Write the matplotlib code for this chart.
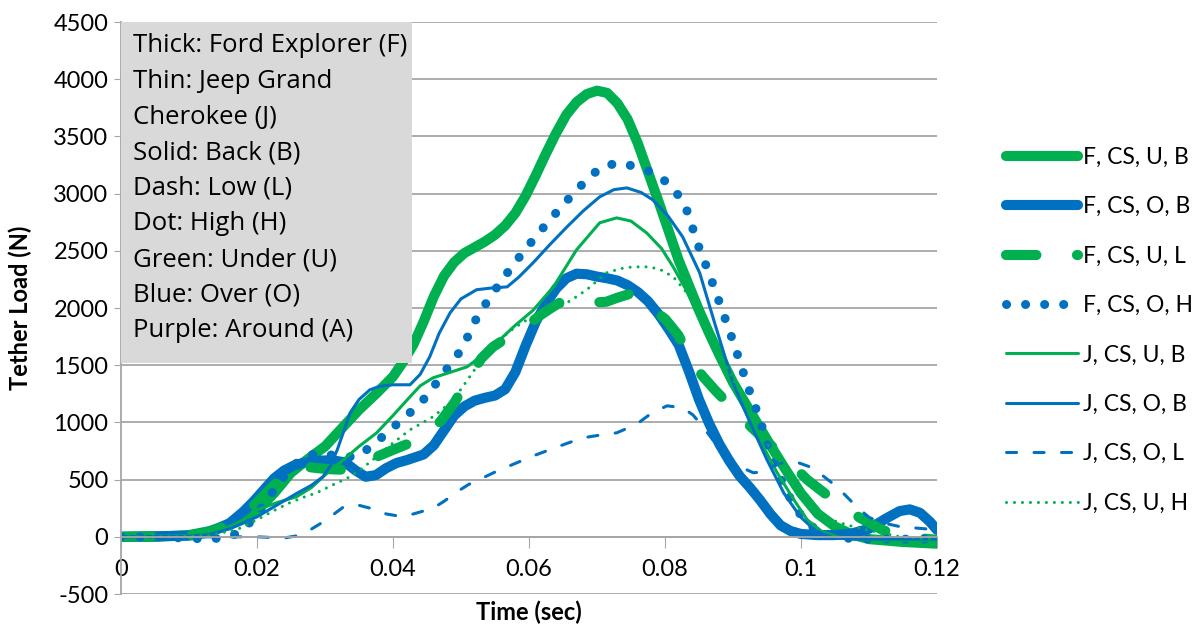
import matplotlib.pyplot as plt
import numpy as np

plt.rcParams['font.family'] = ['Lato', 'DejaVu Sans']
plt.rcParams['axes.unicode_minus'] = False

green = '#00B050'
blue = '#0070C0'

# F, CS, U, B  (thick green solid)
fub_t = [0, 0.005, 0.01, 0.013, 0.016, 0.018, 0.02, 0.0225, 0.025, 0.0275, 0.03, 0.0325,
         0.035, 0.0375, 0.04, 0.0415, 0.043, 0.0445, 0.046, 0.0475, 0.049, 0.0505, 0.052,
         0.0535, 0.055, 0.0565, 0.058, 0.0595, 0.061, 0.0625, 0.064, 0.0655, 0.067, 0.0685,
         0.07, 0.0715, 0.073, 0.0745, 0.076, 0.0775, 0.079, 0.0805, 0.082, 0.0835, 0.085,
         0.0865, 0.088, 0.09, 0.0925, 0.095, 0.0975, 0.1, 0.1025, 0.105, 0.1075, 0.11,
         0.115, 0.12]
fub_v = [0, 0, 15, 50, 110, 170, 230, 380, 560, 680, 790, 950,
         1110, 1250, 1400, 1530, 1680, 1880, 2100, 2280, 2400, 2480, 2530,
         2580, 2640, 2720, 2830, 2980, 3160, 3350, 3530, 3690, 3800, 3870,
         3900, 3880, 3790, 3650, 3440, 3190, 2940, 2680, 2420, 2200, 1980,
         1780, 1590, 1350, 1100, 850, 610, 380, 200, 90, 20, -20,
         -45, -60]

# F, CS, O, B  (thick blue solid)
fob_t = [0, 0.01, 0.013, 0.016, 0.018, 0.0195, 0.021, 0.0225, 0.024, 0.0255, 0.027,
         0.029, 0.031, 0.033, 0.0345, 0.036, 0.0375, 0.039, 0.0405, 0.042, 0.0445, 0.046,
         0.0475, 0.049, 0.0505, 0.052, 0.0535, 0.055, 0.0565, 0.058, 0.0595, 0.061, 0.0625,
         0.064, 0.0655, 0.067, 0.0685, 0.07, 0.0715, 0.073, 0.0745, 0.076, 0.0775, 0.079,
         0.0805, 0.082, 0.0835, 0.085, 0.0865, 0.088, 0.0895, 0.091, 0.0925, 0.094, 0.0955,
         0.097, 0.0985, 0.1, 0.1025, 0.105, 0.1075, 0.11, 0.1125, 0.1145, 0.116, 0.1175,
         0.119, 0.12]
fob_v = [0, 10, 40, 120, 220, 310, 410, 510, 580, 625, 650,
         665, 670, 650, 580, 525, 540, 600, 645, 670, 720, 800,
         930, 1060, 1140, 1190, 1215, 1235, 1290, 1440, 1670, 1880, 2040,
         2170, 2260, 2300, 2295, 2275, 2260, 2240, 2200, 2140, 2060, 1950,
         1820, 1680, 1450, 1200, 990, 810, 660, 530, 430, 320, 200,
         100, 50, 25, 15, 15, 30, 70, 160, 225, 240, 210,
         130, 60]

# F, CS, U, L  (thick green dashed)
ful_t = [0, 0.01, 0.013, 0.016, 0.018, 0.02, 0.022, 0.024, 0.0258, 0.0275, 0.029,
         0.031, 0.0335, 0.0355, 0.0376, 0.04, 0.0425, 0.045, 0.047, 0.049, 0.0513, 0.053,
         0.0547, 0.0565, 0.0582, 0.06, 0.0615, 0.063, 0.0646, 0.066, 0.068, 0.07, 0.0714,
         0.073, 0.0749, 0.0765, 0.078, 0.0801, 0.082, 0.084, 0.0856, 0.0874, 0.09, 0.0925,
         0.095, 0.098, 0.1009, 0.1047, 0.1087, 0.112, 0.115, 0.12]
ful_v = [0, 10, 40, 110, 190, 300, 420, 540, 610, 610, 600,
         590, 585, 630, 700, 760, 820, 900, 1010, 1170, 1400, 1560,
         1660, 1730, 1783, 1860, 1930, 1990, 2050, 2070, 2060, 2050, 2055,
         2090, 2125, 2080, 2000, 1900, 1760, 1520, 1400, 1280, 1120, 970,
         830, 673, 500, 325, 165, 60, 0, -26]

# F, CS, O, H  (thick blue dotted)
foh_t = [0, 0.005, 0.009, 0.013, 0.016, 0.018, 0.02, 0.0215, 0.023, 0.0248, 0.0268,
         0.0293, 0.0322, 0.0347, 0.0371, 0.0391, 0.0413, 0.0435, 0.0454, 0.047, 0.0489,
         0.0503, 0.052, 0.0543, 0.0577, 0.0612, 0.065, 0.0687, 0.0709, 0.0737, 0.076,
         0.0785, 0.0807, 0.0825, 0.0837, 0.0844, 0.0865, 0.0884, 0.0903, 0.092, 0.093,
         0.094, 0.0947, 0.0966, 0.0979, 0.0994, 0.1009, 0.103, 0.106, 0.11, 0.12]
foh_v = [0, 0, -10, -20, 0, 60, 200, 323, 455, 585, 700,
         734, 700, 700, 804, 909, 1023, 1137, 1259, 1400, 1540,
         1660, 1880, 2100, 2380, 2640, 2902, 3136, 3243, 3270, 3226,
         3180, 3077, 2946, 2788, 2622, 2300, 1984, 1660, 1346, 1180,
         1023, 865, 560, 393, 236, 122, 30, -10, -20, -20]

# J, CS, U, B  (thin green solid)
jub_t = [0, 0.01, 0.013, 0.016, 0.018, 0.02, 0.023, 0.0258, 0.028, 0.03, 0.0327,
         0.035, 0.0376, 0.04, 0.0425, 0.044, 0.0459, 0.048, 0.0509, 0.053, 0.0557, 0.058,
         0.0606, 0.0636, 0.067, 0.0704, 0.0729, 0.075, 0.0773, 0.0795, 0.0812, 0.083,
         0.0847, 0.087, 0.089, 0.0915, 0.094, 0.0965, 0.099, 0.1009, 0.103, 0.1053, 0.108,
         0.112, 0.12]
jub_v = [0, 10, 30, 90, 150, 236, 300, 350, 430, 540, 673,
         790, 909, 1060, 1224, 1320, 1390, 1430, 1486, 1580, 1722, 1850,
         1980, 2185, 2509, 2745, 2788, 2760, 2657, 2520, 2360, 2170,
         1958, 1680, 1420, 1136, 840, 560, 320, 150, 50, 0, -20,
         -30, -30]

# J, CS, O, B  (thin blue solid)
job_t = [0, 0.01, 0.013, 0.016, 0.018, 0.02, 0.023, 0.026, 0.028, 0.0297, 0.0308,
         0.0318, 0.0328, 0.0337, 0.035, 0.0366, 0.038, 0.04, 0.0425, 0.044, 0.0454, 0.0468,
         0.0484, 0.05, 0.0523, 0.0545, 0.0568, 0.0585, 0.0606, 0.063, 0.0656, 0.068, 0.0704,
         0.0725, 0.0744, 0.0765, 0.0782, 0.0805, 0.0826, 0.0851, 0.0875, 0.09, 0.0925,
         0.095, 0.0975, 0.0999, 0.102, 0.1047, 0.108, 0.12]
job_v = [0, 5, 20, 70, 120, 175, 280, 385, 450, 525, 620,
         760, 930, 1084, 1200, 1285, 1315, 1329, 1329, 1420, 1573, 1780,
         1958, 2080, 2160, 2175, 2185, 2270, 2395, 2550, 2710, 2850, 2972,
         3035, 3050, 3010, 2946, 2800, 2622, 2308, 1830, 1346, 1000,
         673, 380, 175, 60, -9, -20, -20]

# J, CS, O, L  (thin blue dashed)
jol_t = [0, 0.01, 0.02, 0.022, 0.024, 0.026, 0.0278, 0.03, 0.0327, 0.0347, 0.036,
         0.0376, 0.039, 0.041, 0.043, 0.0459, 0.0475, 0.0494, 0.0512, 0.0532, 0.0555,
         0.0582, 0.0605, 0.063, 0.0655, 0.0679, 0.0705, 0.0729, 0.0745, 0.0763, 0.078,
         0.0803, 0.0826, 0.0841, 0.0856, 0.087, 0.089, 0.0915, 0.093, 0.0944, 0.096, 0.0974,
         0.0995, 0.1013, 0.1033, 0.1053, 0.1082, 0.11, 0.112, 0.1145, 0.1165, 0.12]
jol_v = [0, 0, 0, -5, -10, 10, 60, 140, 260, 280, 260,
         236, 200, 180, 200, 250, 310, 393, 460, 515, 580,
         647, 705, 760, 815, 865, 890, 909, 950, 1005, 1080,
         1145, 1128, 1066, 962, 850, 720, 600, 560, 568, 620, 647,
         650, 612, 530, 437, 262, 170, 122, 90, 79, 61]

# J, CS, U, H  (thin green dotted)
juh_t = [0, 0.008, 0.013, 0.017, 0.02, 0.0225, 0.0248, 0.0268, 0.0288, 0.031, 0.0337,
         0.0355, 0.0376, 0.04, 0.0425, 0.0459, 0.0484, 0.05, 0.0523, 0.054, 0.0557, 0.0577,
         0.0597, 0.062, 0.0646, 0.0665, 0.0685, 0.0714, 0.0735, 0.0753, 0.0778, 0.0795,
         0.0812, 0.0837, 0.0855, 0.0876, 0.09, 0.092, 0.0945, 0.097, 0.0995, 0.102, 0.1043,
         0.107, 0.1097, 0.1146, 0.12]
juh_v = [0, 0, 15, 61, 149, 230, 297, 345, 385, 450, 525,
         600, 700, 820, 935, 1050, 1170, 1290, 1486, 1610, 1722, 1820,
         1897, 1960, 2010, 2080, 2160, 2308, 2345, 2360, 2360, 2330,
         2273, 2100, 1900, 1660, 1380, 1150, 870, 620, 400, 250, 150,
         100, 61, 0, -20]

box_lines = ["Thick: Ford Explorer (F)", "Thin: Jeep Grand", "Cherokee (J)",
             "Solid: Back (B)", "Dash: Low (L)", "Dot: High (H)",
             "Green: Under (U)", "Blue: Over (O)", "Purple: Around (A)"]

fig = plt.figure(figsize=(11.93, 6.31), dpi=100)
ax = fig.add_axes([0.1014, 0.0586, 0.684, 0.9065])

series = [
    (fub_t, fub_v, "F, CS, U, B", green, 7.3, None),
    (fob_t, fob_v, "F, CS, O, B", blue, 7.3, None),
    (ful_t, ful_v, "F, CS, U, L", green, 7.3, (3, 4)),
    (foh_t, foh_v, "F, CS, O, H", blue, 6.5, (0.01, 2.1)),
    (jub_t, jub_v, "J, CS, U, B", green, 2.2, None),
    (job_t, job_v, "J, CS, O, B", blue, 2.2, None),
    (jol_t, jol_v, "J, CS, O, L", blue, 2.2, (3.3, 5.7)),
    (juh_t, juh_v, "J, CS, U, H", green, 2.2, (0.01, 2.6)),
]

for t, v, lab, col, lw, dash in series:
    line, = ax.plot(t, v, color=col, lw=lw, label=lab, solid_capstyle='round',
                    solid_joinstyle='round', dash_capstyle='round', dash_joinstyle='round')
    if dash is not None:
        line.set_dashes(dash)

ax.set_xlim(0, 0.12)
ax.set_ylim(-500, 4500)
ax.set_yticks(np.arange(-500, 4501, 500))
ax.set_xticks([0, 0.02, 0.04, 0.06, 0.08, 0.1, 0.12])
ax.set_xticklabels(['0', '0.02', '0.04', '0.06', '0.08', '0.1', '0.12'])
ax.grid(axis='y', color='#A6A6A6', lw=1.3)
ax.set_axisbelow(True)

for s in ['top', 'right']:
    ax.spines[s].set_visible(False)
ax.spines['bottom'].set_position(('data', 0))
ax.spines['bottom'].set_color('#A6A6A6')
ax.spines['bottom'].set_linewidth(1.3)
ax.spines['left'].set_color('#A6A6A6')
ax.spines['left'].set_linewidth(1.3)
ax.tick_params(axis='x', direction='out', length=8, color='#A6A6A6', labelsize=17, pad=8)
ax.tick_params(axis='y', direction='out', length=5, color='#A6A6A6', labelsize=17, pad=4)

ax.set_xlabel("Time (sec)", fontsize=17, fontweight='bold')
ax.set_ylabel("Tether Load (N)", fontsize=17, fontweight='bold', labelpad=15)
ax.xaxis.set_label_coords(0.5, -0.012)

# gray note box
ax.add_patch(plt.Rectangle((0, 0.404), 0.357, 0.596, transform=ax.transAxes,
                           facecolor='#D9D9D9', edgecolor='none', zorder=5))
for i, s in enumerate(box_lines):
    fig.text(133 / 1193, 1 - (46 + i * 35.6) / 631, s, fontsize=18.5,
             family=['Open Sans', 'DejaVu Sans'], va='center', ha='left', zorder=6)

leg = fig.legend(loc='upper left', bbox_to_anchor=(0.826, 0.80), frameon=False,
                 fontsize=16.5, handlelength=3.15, handletextpad=0.2, labelspacing=1.24)

fig.savefig('out.png', dpi=100)
